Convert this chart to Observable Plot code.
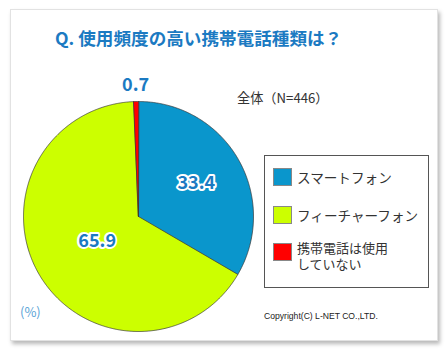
<!DOCTYPE html>
<html><head><meta charset="utf-8">
<script src="https://cdn.jsdelivr.net/npm/d3@7"></script>
<script src="https://cdn.jsdelivr.net/npm/@observablehq/plot@0.6"></script>
<style>
html,body{margin:0;padding:0;background:#fff;}
#wrap{position:relative;width:447px;height:352px;overflow:hidden;font-family:"Noto Sans CJK JP","Noto Sans",sans-serif;}
#card{position:absolute;left:10px;top:9px;width:426px;height:330px;background:#fff;border:1px solid #e2e2e2;box-shadow:2px 3px 4px rgba(0,0,0,0.28);}
.abs{position:absolute;white-space:nowrap;}
#title{left:55px;top:27px;font-size:17.6px;font-weight:bold;color:#1b7ac2;line-height:22px;}
#total{left:237px;top:89px;font-size:13.2px;color:#333;line-height:18px;}
#legend{left:264px;top:155px;width:163px;height:131px;border:1px solid #555;background:#fff;}
.item{position:absolute;left:8px;font-size:13.6px;color:#333;}
.sw{position:absolute;left:0;width:19px;height:18px;box-sizing:border-box;border:1px solid #888;}
.lab{position:absolute;left:24px;white-space:nowrap;height:14px;line-height:14px;}
#pct{left:20px;top:303px;font-size:13px;color:#5aa3d6;line-height:18px;}
#copy{left:264px;top:310px;font-family:"Liberation Sans",Arial,sans-serif;font-size:8.6px;color:#222;line-height:12px;}
#pie{position:absolute;left:13px;top:71px;}
#pie svg{background:transparent;overflow:visible;}
</style></head>
<body>
<div id="wrap">
  <div id="card"></div>
  <div id="title" class="abs">Q. 使用頻度の高い携帯電話種類は？</div>
  <div id="total" class="abs">全体（N=446）</div>
  <div id="pie"></div>
  <div id="legend" class="abs"></div>
  <div id="pct" class="abs">(%)</div>
  <div id="copy" class="abs">Copyright(C) L-NET CO.,LTD.</div>
</div>
<script>
const categories = ["スマートフォン", "フィーチャーフォン", "携帯電話は使用していない"];
const legendLabels = [["スマートフォン"], ["フィーチャーフォン"], ["携帯電話は使用", "していない"]];
const values = [33.4, 65.9, 0.7];
const colors = ["#0a96cc", "#ccff00", "#ff0000"];
const labelText = ["33.4", "65.9", "0.7"];

// layout settings
const labelRadius = [0.58, 0.42, 1.14];
const labelHalo = [true, true, false];

const total = d3.sum(values);
let acc = 0;
const polyPts = [];
const labels = [];
values.forEach((v, i) => {
  const a0 = acc / total * 2 * Math.PI;
  acc += v;
  const a1 = acc / total * 2 * Math.PI;
  const n = Math.max(2, Math.ceil((a1 - a0) / (Math.PI / 360)));
  polyPts.push({x: 0, y: 0, cat: categories[i]});
  for (let k = 0; k <= n; k++) {
    const a = a0 + (a1 - a0) * k / n;
    polyPts.push({x: Math.sin(a), y: Math.cos(a), cat: categories[i]});
  }
  const am = (a0 + a1) / 2;
  labels.push({x: Math.sin(am) * labelRadius[i], y: Math.cos(am) * labelRadius[i], text: labelText[i], halo: labelHalo[i]});
});

const plot = Plot.plot({
  width: 250, height: 270,
  marginLeft: 10, marginRight: 10, marginTop: 30, marginBottom: 10,
  x: {domain: [-1, 1], axis: null},
  y: {domain: [-1, 1], axis: null},
  color: {domain: categories, range: colors},
  style: {background: "transparent", overflow: "visible"},
  marks: [
    Plot.line(polyPts, {x: "x", y: "y", z: "cat", fill: "cat", stroke: "#333", strokeWidth: 0.7, curve: "linear-closed"}),
    Plot.text(labels.filter(d => d.halo), {x: "x", y: "y", text: "text", fill: "#1b7ac2", stroke: "white", strokeWidth: 4, fontSize: 18, fontWeight: "bold", fontFamily: "Noto Sans CJK JP"}),
    Plot.text(labels.filter(d => !d.halo), {x: "x", y: "y", text: "text", fill: "#1b7ac2", fontSize: 18, fontWeight: "bold", fontFamily: "Noto Sans CJK JP"})
  ]
});
document.getElementById("pie").appendChild(plot);

const legend = document.getElementById("legend");
const tops = [12, 50, 87];
categories.forEach((c, i) => {
  const it = document.createElement("div");
  it.className = "item";
  it.style.top = tops[i] + "px";
  const sw = document.createElement("div");
  sw.className = "sw";
  sw.style.background = colors[i];
  sw.style.top = "0px";
  it.appendChild(sw);
  const lines = legendLabels[i];
  lines.forEach((t, j) => {
    const lab = document.createElement("div");
    lab.className = "lab";
    if (lines.length > 1) { lab.style.fontSize = "13px"; }
    lab.style.top = (lines.length > 1 ? -2 + j * 15.5 : 2) + "px";
    lab.textContent = t;
    it.appendChild(lab);
  });
  legend.appendChild(it);
});
</script>
</body></html>
